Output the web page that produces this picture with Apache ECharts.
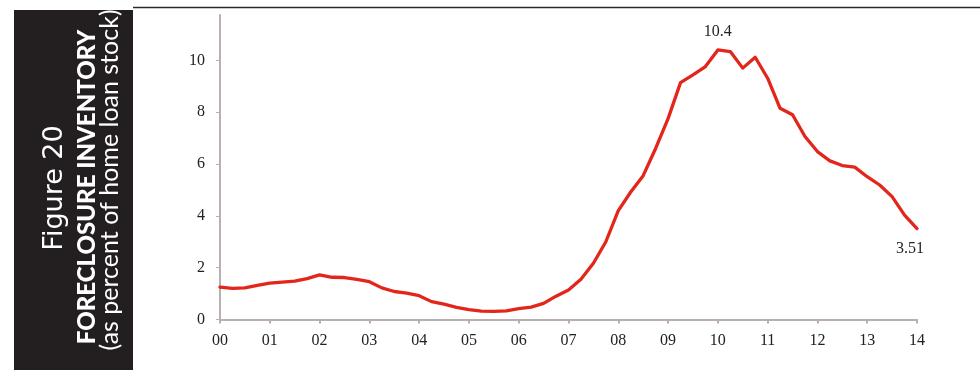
<!DOCTYPE html>
<html>
<head>
<meta charset="utf-8">
<script src="https://cdn.jsdelivr.net/npm/echarts@6/dist/echarts.min.js"></script>
<style>
  html, body { margin: 0; padding: 0; background: #fff; }
  #chart { width: 980px; height: 374px; }
</style>
</head>
<body>
<div id="chart"></div>
<script>
// Year labels along the x axis (one tick per year, quarterly data points)
const years = ['00','01','02','03','04','05','06','07','08','09','10','11','12','13','14'];

// Foreclosure inventory, percent of home loan stock, quarterly from 2000 Q1 to 2014 Q1
const inventory = [
  1.25, 1.20, 1.22, 1.32,
  1.40, 1.44, 1.48, 1.58,
  1.72, 1.63, 1.62, 1.55,
  1.46, 1.22, 1.08, 1.02,
  0.92, 0.69, 0.59, 0.47,
  0.38, 0.32, 0.31, 0.33,
  0.42, 0.48, 0.62, 0.90,
  1.14, 1.55, 2.17, 3.00,
  4.20, 4.92, 5.55, 6.60,
  7.75, 9.14, 9.44, 9.76,
  10.4, 10.34, 9.70, 10.12,
  9.31, 8.15, 7.90, 7.06,
  6.48, 6.12, 5.94, 5.88,
  5.51, 5.19, 4.74, 4.03,
  3.51
];

// Y axis ticks
const yTicks = [0, 2, 4, 6, 8, 10];

// Quarter categories: each year label sits on its first quarter
const quarters = [];
years.forEach(function (y, yi) {
  const n = yi === years.length - 1 ? 1 : 4;
  for (let q = 0; q < n; q++) quarters.push(q === 0 ? y : y + 'Q' + (q + 1));
});

const peakIndex = inventory.indexOf(Math.max.apply(null, inventory));
const lastIndex = inventory.length - 1;

const serif = 'Liberation Serif';
const axisGray = '#b9b0ae';

const chart = echarts.init(document.getElementById('chart'), null, { renderer: 'canvas' });
chart.setOption({
  animation: false,
  backgroundColor: '#fff',
  grid: { left: 220, right: 63, top: 15, bottom: 54.5, containLabel: false },
  xAxis: {
    type: 'category',
    data: quarters,
    boundaryGap: false,
    axisLine: { lineStyle: { color: axisGray, width: 2 } },
    axisTick: { show: true, length: 4, interval: 3, lineStyle: { color: axisGray, width: 2 } },
    axisLabel: {
      interval: 3,
      margin: 13,
      fontFamily: serif,
      fontSize: 16,
      color: '#222',
      formatter: function (v) { return v.slice(0, 2); }
    },
    splitLine: { show: false }
  },
  yAxis: {
    type: 'value',
    min: 0,
    max: 11.75,
    interval: 2,
    axisLine: { show: true, lineStyle: { color: axisGray, width: 2 } },
    axisTick: { show: true, length: 4, lineStyle: { color: axisGray, width: 1 } },
    axisLabel: {
      showMaxLabel: false,
      margin: 15,
      fontFamily: serif,
      fontSize: 16,
      color: '#222',
      formatter: function (v) { return yTicks.indexOf(v) >= 0 ? String(v) : ''; }
    },
    splitLine: { show: false }
  },
  series: [{
    type: 'line',
    data: inventory,
    showSymbol: false,
    symbol: 'none',
    smooth: false,
    lineStyle: { color: '#e3261b', width: 3.3, cap: 'round', join: 'round' },
    markPoint: {
      symbol: 'circle',
      symbolSize: 0,
      silent: true,
      data: [
        {
          coord: [quarters[peakIndex], inventory[peakIndex]],
          value: inventory[peakIndex],
          label: { show: true, position: 'top', distance: 10, fontFamily: serif, fontSize: 16, color: '#222', formatter: '{c}' }
        },
        {
          coord: [quarters[lastIndex], inventory[lastIndex]],
          value: inventory[lastIndex],
          label: { show: true, position: 'bottom', distance: 12, offset: [-7, 0], fontFamily: serif, fontSize: 16, color: '#222', formatter: '{c}' }
        }
      ]
    }
  }],
  graphic: [
    // Rule across the top of the figure
    { type: 'line', shape: { x1: 133, y1: 7.5, x2: 980, y2: 7.5 }, style: { stroke: '#2a2a2a', lineWidth: 1.6 }, z: 10 },
    // Dark title panel
    { type: 'rect', shape: { x: 14, y: 10, width: 119, height: 360 }, style: { fill: '#231f20' }, z: 10 },
    {
      type: 'text', x: 55, y: 188, rotation: Math.PI / 2, z: 11,
      style: { text: 'Figure 20', fill: '#fff', font: '27px "DejaVu Sans"', textAlign: 'center', textVerticalAlign: 'middle' }
    },
    {
      type: 'text', x: 87, y: 187, rotation: Math.PI / 2, z: 11,
      style: { text: 'FORECLOSURE INVENTORY', fill: '#fff', font: '900 24px Lato', textAlign: 'center', textVerticalAlign: 'middle' }
    },
    {
      type: 'text', x: 110, y: 180, rotation: Math.PI / 2, z: 11,
      style: { text: '(as percent of home loan stock)', fill: '#fff', font: '25px Lato', textAlign: 'center', textVerticalAlign: 'middle' }
    }
  ]
});
</script>
</body>
</html>
